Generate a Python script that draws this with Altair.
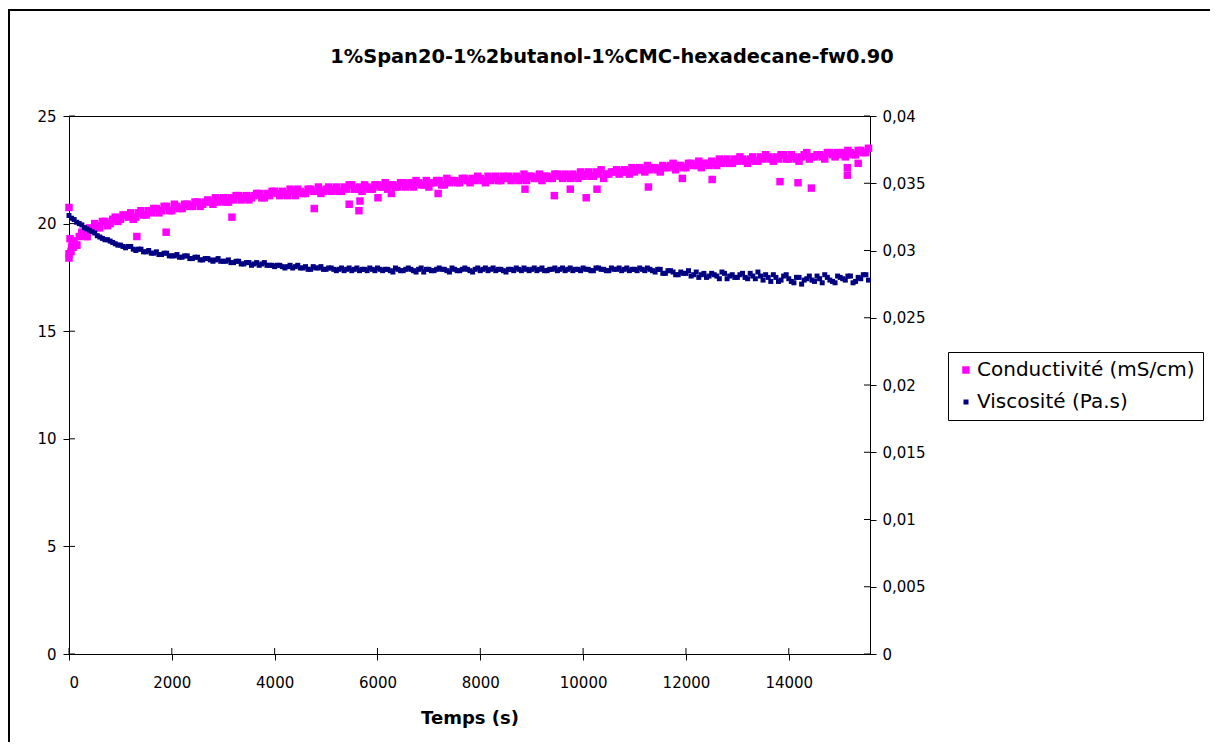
import altair as alt
import pandas as pd

TITLE = "1%Span20-1%2butanol-1%CMC-hexadecane-fw0.90"
X_TITLE = "Temps (s)"
SERIES = ["Conductivité (mS/cm)", "Viscosité (Pa.s)"]
COLORS = ["#FF00FF", "#000080"]

STEP = 100  # sampling step (s); readings at t = 0, 100, ... and t = 50, 150, ...

# Conductivité (mS/cm) at t = 0, 100, 200, ...
cond_main = [
    18.6, 19.2, 19.4, 19.6, 19.8, 20.0, 19.8, 20.1, 20.0, 20.3,
    20.2, 20.4, 20.5, 20.3, 20.6, 20.4, 20.5, 20.7, 20.6, 20.8,
    20.6, 20.8, 20.7, 20.9, 20.8, 21.0, 20.9, 21.1, 20.9, 21.0,
    21.2, 21.0, 21.1, 21.3, 21.2, 21.1, 21.3, 21.4, 21.2, 21.3,
    21.5, 21.3, 21.4, 21.6, 21.3, 21.5, 21.4, 21.6, 21.5, 21.4,
    21.6, 21.5, 21.7, 21.5, 21.6, 21.8, 21.6, 21.5, 21.7, 21.6,
    21.8, 21.7, 21.6, 21.8, 21.7, 21.9, 21.8, 21.7, 21.9, 21.8,
    21.7, 21.9, 22.0, 21.8, 21.9, 22.0, 21.9, 22.1, 21.9, 22.0,
    22.1, 21.9, 22.0, 22.2, 22.0, 22.1, 22.0, 22.2, 22.1, 22.0,
    22.2, 22.1, 22.0, 22.2, 22.1, 22.3, 22.1, 22.2, 22.3, 22.1,
    22.2, 22.4, 22.2, 22.3, 22.1, 22.3, 22.4, 22.3, 22.5, 22.3,
    22.4, 22.6, 22.4, 22.5, 22.6, 22.4, 22.6, 22.7, 22.5, 22.7,
    22.6, 22.8, 22.7, 22.6, 22.8, 22.9, 22.7, 22.8, 23.0, 22.8,
    22.9, 23.0, 22.8, 23.1, 22.9, 23.0, 23.1, 22.9, 23.0, 23.2,
    23.0, 23.1, 22.9, 23.2, 23.0, 23.1, 23.2, 23.0, 23.3, 23.1,
    23.2, 23.1, 23.3, 23.2, 23.4, 23.3,
]
# Conductivité (mS/cm) at t = 50, 150, 250, ...
cond_mid = [
    18.9, 19.0, 19.5, 19.4, 19.7, 19.9, 20.1, 19.9, 20.2, 20.1,
    20.4, 20.3, 20.2, 20.5, 20.4, 20.6, 20.7, 20.5, 20.8, 20.6,
    20.9, 20.7, 20.9, 20.8, 21.0, 20.8, 21.0, 21.0, 21.2, 21.1,
    21.0, 21.2, 21.3, 21.1, 21.3, 21.2, 21.4, 21.2, 21.4, 21.5,
    21.4, 21.5, 21.3, 21.5, 21.6, 21.4, 21.6, 21.5, 21.7, 21.5,
    21.7, 21.6, 21.5, 21.7, 21.8, 21.6, 21.7, 21.8, 21.6, 21.8,
    21.7, 21.9, 21.8, 21.7, 21.9, 21.7, 21.9, 22.0, 21.8, 22.0,
    21.9, 22.0, 21.8, 22.1, 22.0, 21.9, 22.1, 22.0, 22.1, 22.2,
    22.0, 22.2, 22.1, 22.0, 22.2, 22.2, 22.1, 22.0, 22.3, 22.2,
    22.1, 22.3, 22.2, 22.1, 22.3, 22.2, 22.3, 22.1, 22.2, 22.4,
    22.3, 22.2, 22.4, 22.5, 22.3, 22.4, 22.5, 22.4, 22.4, 22.6,
    22.5, 22.5, 22.7, 22.6, 22.5, 22.7, 22.6, 22.8, 22.7, 22.6,
    22.8, 22.7, 22.9, 22.8, 22.7, 22.8, 23.0, 22.9, 22.8, 23.0,
    23.1, 22.9, 23.0, 22.9, 23.1, 23.2, 23.0, 23.1, 23.2, 23.0,
    23.2, 23.0, 23.1, 23.3, 23.1, 23.2, 23.1, 23.3, 23.2, 23.3,
    23.3, 23.4, 23.2, 23.4, 23.3, 23.5,
]

# Extra conductivity readings: early cluster and scattered low points
cond_extra_t = [0, 0, 20, 40, 60, 80, 150, 250, 350,
                1320, 1890, 3170, 4770, 5450, 5640, 5660, 6010, 6270, 7180,
                8870, 9440, 9750, 10060, 10270, 11270, 11930, 12510, 13830,
                14180, 14440, 15140, 15140, 15350]
cond_extra_v = [20.75, 18.4, 19.3, 18.7, 19.1, 18.9, 19.0, 19.6, 19.4,
                19.4, 19.6, 20.3, 20.7, 20.9, 20.6, 21.05, 21.2, 21.4, 21.4,
                21.6, 21.3, 21.6, 21.2, 21.6, 21.7, 22.1, 22.05, 21.95,
                21.9, 21.65, 22.6, 22.25, 22.8]

# Viscosité in mPa.s (converted to Pa.s below) at t = 0, 100, 200, ...
visc_main = [
    32.6, 32.3, 32.0, 31.7, 31.5, 31.3, 31.0, 30.8, 30.7, 30.5,
    30.4, 30.2, 30.3, 30.0, 30.1, 29.9, 29.8, 29.9, 29.7, 29.8,
    29.6, 29.7, 29.5, 29.6, 29.4, 29.5, 29.3, 29.4, 29.2, 29.4,
    29.2, 29.3, 29.1, 29.2, 29.0, 29.1, 29.0, 28.9, 29.1, 28.9,
    28.8, 28.9, 28.7, 28.9, 28.8, 28.7, 28.8, 28.6, 28.7, 28.8,
    28.6, 28.7, 28.5, 28.7, 28.6, 28.5, 28.7, 28.6, 28.5, 28.6,
    28.7, 28.5, 28.6, 28.4, 28.6, 28.5, 28.7, 28.5, 28.6, 28.4,
    28.6, 28.5, 28.7, 28.6, 28.4, 28.6, 28.5, 28.7, 28.5, 28.6,
    28.5, 28.7, 28.6, 28.5, 28.6, 28.4, 28.6, 28.7, 28.5, 28.6,
    28.6, 28.5, 28.7, 28.5, 28.6, 28.5, 28.7, 28.6, 28.5, 28.6,
    28.7, 28.6, 28.5, 28.7, 28.6, 28.5, 28.6, 28.7, 28.6, 28.5,
    28.6, 28.7, 28.5, 28.6, 28.4, 28.6, 28.3, 28.5, 28.2, 28.4,
    28.3, 28.1, 28.4, 28.2, 28.0, 28.3, 28.1, 28.4, 27.9, 28.2,
    28.0, 28.3, 27.9, 28.1, 28.4, 27.8, 28.0, 28.2, 27.7, 28.1,
    27.9, 27.6, 28.0, 27.8, 28.1, 27.7, 27.9, 28.2, 27.8, 27.6,
    28.0, 27.8, 28.1, 27.7, 27.9, 28.2,
]
# Viscosité in mPa.s at t = 50, 150, 250, ...
visc_mid = [
    32.4, 32.1, 31.9, 31.6, 31.4, 31.1, 30.9, 30.8, 30.6, 30.4,
    30.3, 30.3, 30.1, 30.1, 29.9, 30.0, 29.8, 29.7, 29.8, 29.6,
    29.6, 29.5, 29.6, 29.4, 29.5, 29.3, 29.4, 29.3, 29.3, 29.2,
    29.2, 29.1, 29.2, 29.0, 29.1, 28.9, 29.1, 29.0, 28.9, 28.9,
    28.9, 28.8, 28.8, 28.7, 28.9, 28.7, 28.6, 28.8, 28.7, 28.6,
    28.7, 28.6, 28.6, 28.5, 28.7, 28.6, 28.5, 28.6, 28.7, 28.5,
    28.6, 28.6, 28.5, 28.7, 28.5, 28.6, 28.6, 28.4, 28.7, 28.6,
    28.5, 28.6, 28.6, 28.5, 28.7, 28.5, 28.6, 28.6, 28.4, 28.7,
    28.6, 28.5, 28.7, 28.6, 28.5, 28.6, 28.5, 28.6, 28.7, 28.5,
    28.7, 28.6, 28.5, 28.6, 28.7, 28.6, 28.5, 28.7, 28.6, 28.5,
    28.6, 28.5, 28.7, 28.6, 28.5, 28.7, 28.6, 28.5, 28.7, 28.6,
    28.5, 28.6, 28.7, 28.5, 28.6, 28.3, 28.5, 28.4, 28.2, 28.3,
    28.5, 28.2, 28.0, 28.3, 28.1, 28.2, 27.9, 28.3, 28.1, 28.0,
    28.2, 28.0, 28.3, 27.9, 28.1, 28.2, 27.7, 28.0, 27.8, 28.2,
    27.7, 28.0, 27.5, 27.9, 27.8, 28.1, 27.6, 28.0, 27.7, 28.1,
    27.9, 28.1, 27.6, 28.0, 28.2, 27.8,
]

x_ticks = [0, 2000, 4000, 6000, 8000, 10000, 12000, 14000]
left_ticks = [0, 5, 10, 15, 20, 25]
right_ticks = [0, 0.005, 0.01, 0.015, 0.02, 0.025, 0.03, 0.035, 0.04]
X_MAX = 15580

W, H = 801, 538
PAD = {"left": 61, "top": 108, "right": 340, "bottom": 88}
FONT = "DejaVu Sans"


def times(n, start):
    return [start + i * STEP for i in range(n)]


cond_df = pd.DataFrame({
    "t": times(len(cond_main), 0) + times(len(cond_mid), STEP // 2) + cond_extra_t,
    "v": cond_main + cond_mid + cond_extra_v,
    "series": SERIES[0],
})
visc_df = pd.DataFrame({
    "t": times(len(visc_main), 0) + times(len(visc_mid), STEP // 2),
    "v": [v / 1000 for v in visc_main + visc_mid],
    "series": SERIES[1],
})

x_enc = alt.X(
    "t:Q",
    scale=alt.Scale(domain=[0, X_MAX], nice=False, zero=False),
    axis=alt.Axis(values=x_ticks, format="d", title=X_TITLE, labelPadding=15,
                  titleFont=FONT, titleFontWeight="bold", titleFontSize=18,
                  titleY=64, titleBaseline="middle", titleColor="black"),
)

legend = alt.Legend(
    title=None, orient="none", legendX=879, legendY=236,
    strokeColor="black", fillColor="white",
    padding=8, rowPadding=12, labelFont=FONT, labelFontSize=20,
    labelColor="black", symbolType="square", labelOffset=1, labelLimit=400,
    symbolOffset=0, symbolStrokeWidth=0,
)
color_enc = alt.Color("series:N", scale=alt.Scale(domain=SERIES, range=COLORS), legend=legend)
size_enc = alt.Size("series:N", scale=alt.Scale(domain=SERIES, range=[56, 25]), legend=legend)

left_scale = alt.Scale(domain=[0, 25], nice=False, zero=True)
right_scale = alt.Scale(domain=[0, 0.04], nice=False, zero=True)

cond_layer = alt.Chart(cond_df).mark_square(opacity=1).encode(
    x=x_enc,
    y=alt.Y("v:Q", scale=left_scale,
            axis=alt.Axis(orient="left", values=left_ticks, format="d", title=None, labelPadding=7)),
    color=color_enc,
    size=size_enc,
)

visc_layer = alt.Chart(visc_df).mark_square(opacity=1).encode(
    x=x_enc,
    y=alt.Y("v:Q", scale=right_scale,
            axis=alt.Axis(orient="right", values=right_ticks, title=None, labelPadding=6,
                          labelExpr="replace(format(datum.value, '.3~f'), '.', ',')")),
    color=color_enc,
    size=size_enc,
)

# inward halves of the crossing tick marks
lt_df = pd.DataFrame({"v": left_ticks})
rt_df = pd.DataFrame({"v": right_ticks})
xt_df = pd.DataFrame({"t": x_ticks})

left_in = alt.Chart(lt_df).mark_rule(color="black").encode(
    y=alt.Y("v:Q", scale=left_scale, axis=None), x=alt.value(0), x2=alt.value(6))
right_in = alt.Chart(rt_df).mark_rule(color="black").encode(
    y=alt.Y("v:Q", scale=right_scale, axis=None), x=alt.value(W - 6), x2=alt.value(W))
bottom_in = alt.Chart(xt_df).mark_rule(color="black").encode(
    x=x_enc, y=alt.value(H - 6), y2=alt.value(H))

title_df = pd.DataFrame({"label": [TITLE]})
title_layer = alt.Chart(title_df).mark_text(
    font=FONT, fontWeight="bold", fontSize=19.4, color="black", align="center", baseline="middle"
).encode(x=alt.value(543), y=alt.value(-59), text="label:N")

# outer chart-area border (left and top edges; the others run past the window)
frame_left = alt.Chart(title_df).mark_rule(color="black", strokeWidth=2).encode(
    x=alt.value(-60), y=alt.value(-107), y2=alt.value(H + 150))
frame_top = alt.Chart(title_df).mark_rule(color="black", strokeWidth=2).encode(
    x=alt.value(-61), x2=alt.value(W + 400), y=alt.value(-106))

chart = alt.layer(
    frame_left, frame_top, title_layer, left_in, right_in, bottom_in, cond_layer, visc_layer
).resolve_scale(
    y="independent"
).properties(
    width=W, height=H, padding=PAD,
    autosize=alt.AutoSizeParams(type="none"),
    background="white",
).configure_view(
    stroke="black", strokeWidth=1
).configure_axis(
    grid=False, labelFont=FONT, labelFontSize=15, labelColor="black",
    tickColor="black", tickSize=6, domainColor="black", domainWidth=1,
).configure_legend(
    strokeWidth=1
)

chart.save("out.html", embed_options={"renderer": "svg", "actions": False})
